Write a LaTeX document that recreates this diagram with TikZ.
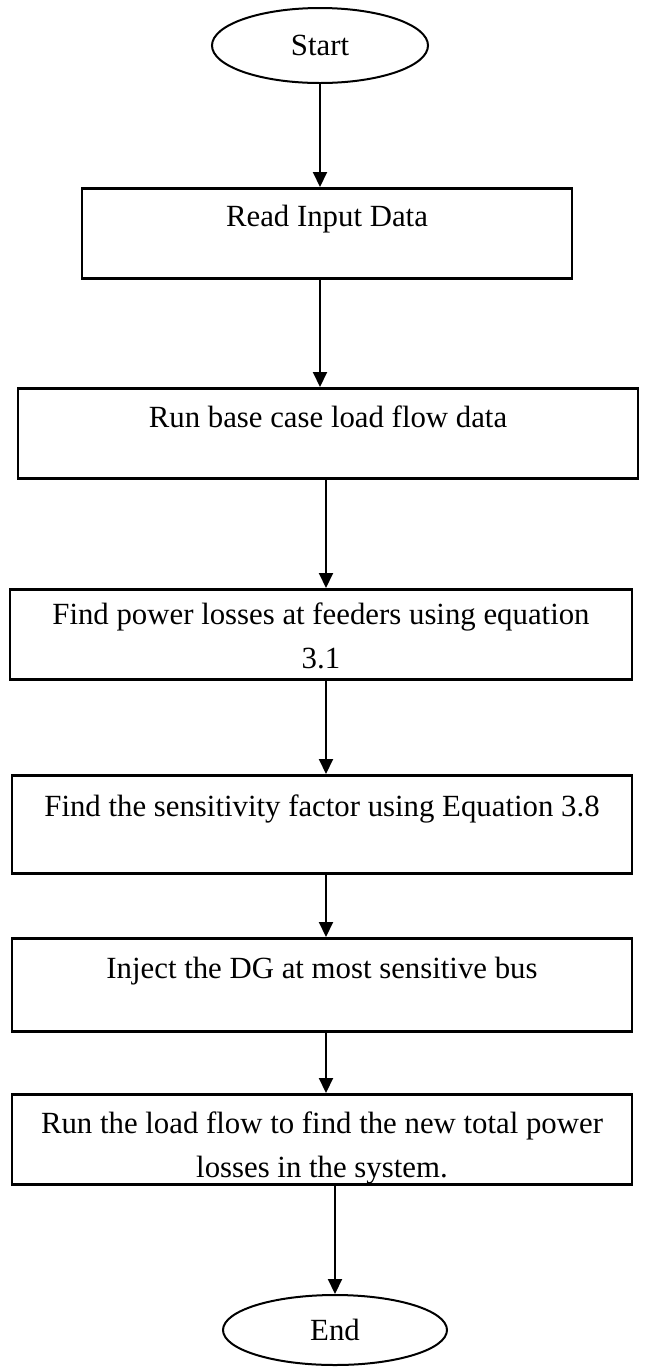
\documentclass[tikz,border=0pt]{standalone}
\usepackage{fontspec}
\setmainfont{Liberation Serif}
\usetikzlibrary{arrows.meta,shapes.geometric}

\begin{document}
\begin{tikzpicture}[x=0.5pt, y=-0.5pt,
  font=\fontsize{15.4pt}{22pt}\selectfont,
  terminal/.style={draw, line width=1pt, ellipse, inner sep=0pt},
  flowbox/.style={draw, line width=1.3pt, rectangle, inner sep=0pt, anchor=north},
  flowarrow/.style={draw, line width=1pt, -{Triangle[length=7.5pt, width=7pt]}}]
\useasboundingbox (0,0) rectangle (644,1367);

% terminals
\node[terminal, minimum width=108pt, minimum height=37.5pt] (start) at (320,45.5) {Start};
\node[terminal, minimum width=112pt, minimum height=35pt] (stop) at (335,1330) {End};

% process steps (text sits near the top edge of each box)
\node[flowbox, minimum width=245pt, text height=19pt, text depth=26pt] (read) at (327,187) {Read Input Data};
\node[flowbox, minimum width=310pt, text height=19.5pt, text depth=25.5pt] (base) at (328,387) {Run base case load flow data};
\node[flowbox, minimum width=311pt, text height=17.5pt, text depth=27.5pt] (loss) at (321,588)
  {\begin{tabular}[t]{@{}c@{}}Find power losses at feeders using equation\\3.1\end{tabular}};
\node[flowbox, minimum width=310pt, text height=20.5pt, text depth=28.5pt] (sens) at (322,774) {Find the sensitivity factor using Equation 3.8};
\node[flowbox, minimum width=310pt, text height=20pt, text depth=26.5pt] (inject) at (322,937) {Inject the DG at most sensitive bus};
\node[flowbox, minimum width=310pt, text height=19.5pt, text depth=25.5pt] (rerun) at (322,1093)
  {\begin{tabular}[t]{@{}c@{}}Run the load flow to find the new total power\\losses in the system.\end{tabular}};

% vertical guide lines for the connectors
\coordinate (axisA) at (320,0);
\coordinate (axisB) at (326,0);

% connectors
\draw[flowarrow] (start.south) -- (axisA |- read.north);
\draw[flowarrow] (axisA |- read.south) -- (axisA |- base.north);
\draw[flowarrow] (axisB |- base.south) -- (axisB |- loss.north);
\draw[flowarrow] (axisB |- loss.south) -- (axisB |- sens.north);
\draw[flowarrow] (axisB |- sens.south) -- (axisB |- inject.north);
\draw[flowarrow] (axisB |- inject.south) -- (axisB |- rerun.north);
\draw[flowarrow] (stop.north |- rerun.south) -- (stop.north);
\end{tikzpicture}
\end{document}
